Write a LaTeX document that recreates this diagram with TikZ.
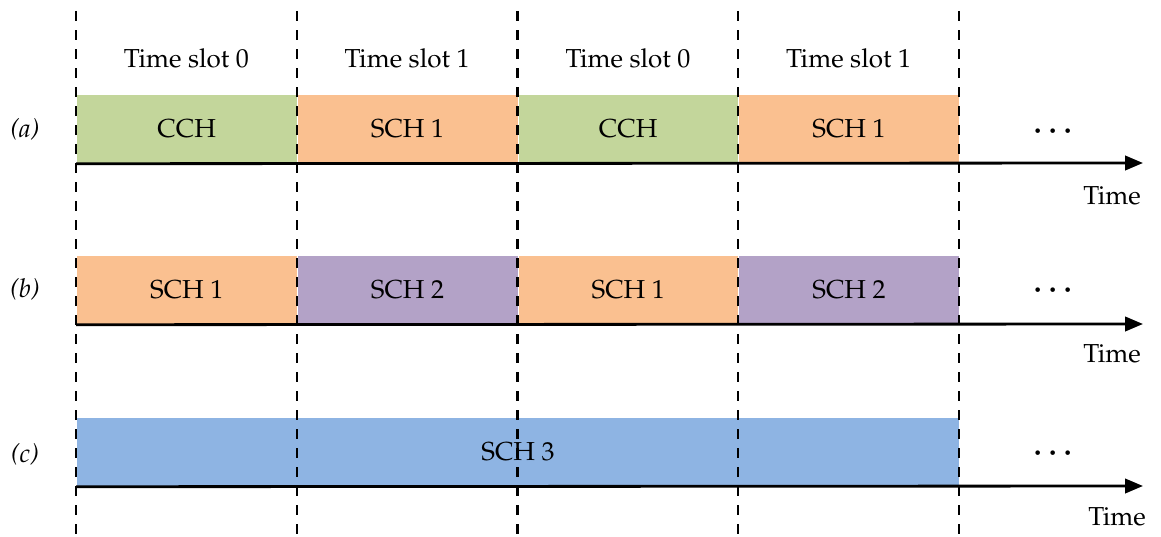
\documentclass[tikz,border=0pt]{standalone}
\usepackage[T1]{fontenc}
\usepackage{mathpazo}
\usetikzlibrary{arrows.meta}
\definecolor{cchgreen}{HTML}{C3D69B}
\definecolor{schorange}{HTML}{FAC090}
\definecolor{schpurple}{HTML}{B3A2C7}
\definecolor{schblue}{HTML}{8EB4E3}
\tikzset{
  txt/.style={font=\fontsize{18.5}{22}\selectfont},
  slotbox/.style={txt, draw=white, line width=0.5pt, inner sep=0pt, anchor=north west,
    minimum width=5.51875cm, minimum height=1.725cm},
  longbox/.style={slotbox, minimum width=22.075cm},
  divider/.style={line width=1.7pt, dash pattern=on 0.25cm off 0.225cm},
  axis/.style={line width=2pt, -{Triangle[length=0.45cm, width=0.36cm]}},
  lbl/.style={txt},
  dots/.style={font=\fontsize{20}{22}\selectfont\boldmath},
  rowlbl/.style={font=\fontsize{18.5}{22}\selectfont\itshape},
}
\begin{document}
\begin{tikzpicture}[x=0.025cm, y=-0.025cm]
\useasboundingbox (0,0) rectangle (1161,537);

% slot boundaries
\foreach \k in {0,...,4} {
  \coordinate (top\k) at (76+220.75*\k, 11);
  \coordinate (bot\k) at (76+220.75*\k, 537);
}

% slot headers
\node[lbl] (h0) at (186.4,58) {Time slot 0};
\node[lbl] (h1) at (407.1,58) {Time slot 1};
\node[lbl] (h2) at (627.9,58) {Time slot 0};
\node[lbl] (h3) at (848.6,58) {Time slot 1};

% row (a)
\node[slotbox, fill=cchgreen]  (a0) at (76,94)     {CCH};
\node[slotbox, fill=schorange] (a1) at (296.75,94) {SCH 1};
\node[slotbox, fill=cchgreen]  (a2) at (517.5,94)  {CCH};
\node[slotbox, fill=schorange] (a3) at (738.25,94) {SCH 1};

% row (b)
\node[slotbox, fill=schorange] (b0) at (76,255)     {SCH 1};
\node[slotbox, fill=schpurple] (b1) at (296.75,255) {SCH 2};
\node[slotbox, fill=schorange] (b2) at (517.5,255)  {SCH 1};
\node[slotbox, fill=schpurple] (b3) at (738.25,255) {SCH 2};

% row (c)
\node[longbox, fill=schblue] (c0) at (76,417) {SCH 3};

% dashed slot boundaries
\foreach \k in {0,...,4} \draw[divider] (top\k) -- (bot\k);

% time axes
\coordinate (ea) at (1143,163);
\coordinate (eb) at (1143,324);
\coordinate (ec) at (1143,486);
\draw[axis] (a0.south west) -- (ea);
\draw[axis] (b0.south west) -- (eb);
\draw[axis] (c0.south west) -- (ec);

% row labels
\node[rowlbl] (la) at (25,130) {(a)};
\node[rowlbl] (lb) at (25,290) {(b)};
\node[rowlbl] (lc) at (25,455) {(c)};

% continuation dots
\node[dots] (da) at (1053,132) {$\cdots$};
\node[dots] (db) at (1053,291) {$\cdots$};
\node[dots] (dc) at (1053,454) {$\cdots$};

% axis names
\node[lbl] (ta) at (1112,196) {Time};
\node[lbl] (tb) at (1112,354) {Time};
\node[lbl] (tc) at (1117,517) {Time};
\end{tikzpicture}
\end{document}
